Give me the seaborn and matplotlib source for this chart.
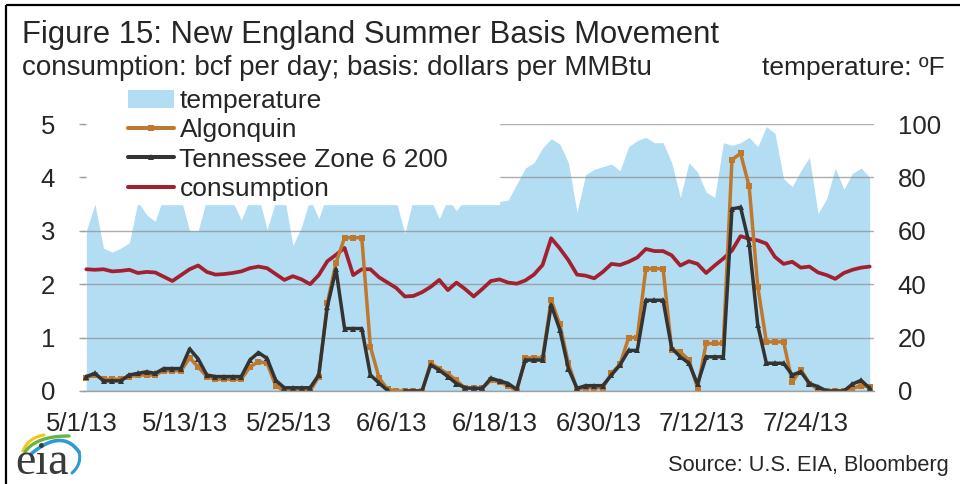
import numpy as np
import pandas as pd
import matplotlib
matplotlib.use("Agg")
import matplotlib.pyplot as plt
import matplotlib.patches as mpatches
from matplotlib.lines import Line2D
import seaborn as sns

# -- Datos (diarios, 5/1/13 - 7/31/13) ---------------------------------------
fechas = pd.date_range("2013-05-01 12:00", periods=92, freq="D")

temperatura = [60, 70, 53.5, 52, 53.5, 55.5, 71, 66, 63.5, 73,
               75, 72, 60, 60, 72, 74, 73, 71, 64, 72,
               73, 60.5, 71, 73, 54.5, 61.5, 72, 64.5, 74, 78,
               80, 76, 75, 74, 73, 72, 71, 59, 72, 74,
               72, 64.5, 72, 67.5, 72, 74, 73, 72, 71, 71.5,
               77.5, 83.5, 85.5, 91, 94.5, 92.5, 85.5, 67, 81, 83,
               84, 85, 82.5, 91.5, 93.8, 95, 93, 93, 85.5, 72.5,
               85.5, 82, 74.5, 72.5, 93, 92, 93, 95, 91.5, 99,
               96.5, 79.5, 76.5, 82.5, 87.5, 66.5, 72, 83.5, 75.5, 81.5,
               83.5, 80]

algonquin = [0.25, 0.30, 0.22, 0.22, 0.22, 0.27, 0.30, 0.30, 0.30, 0.38,
             0.38, 0.38, 0.62, 0.45, 0.27, 0.22, 0.22, 0.22, 0.22, 0.45,
             0.55, 0.52, 0.10, 0.0, 0.0, 0.0, 0.0, 0.27, 1.65, 2.40,
             2.87, 2.87, 2.87, 0.83, 0.25, 0.03, 0.0, 0.0, 0.0, 0.0,
             0.52, 0.42, 0.32, 0.20, 0.05, 0.05, 0.05, 0.20, 0.17, 0.10,
             0.0, 0.62, 0.62, 0.62, 1.70, 1.25, 0.52, 0.03, 0.06, 0.06,
             0.06, 0.33, 0.50, 1.00, 1.00, 2.29, 2.29, 2.29, 0.77, 0.73,
             0.58, 0.05, 0.89, 0.89, 0.89, 4.33, 4.45, 3.83, 1.95, 0.92,
             0.92, 0.92, 0.17, 0.40, 0.14, 0.03, 0.0, 0.0, 0.0, 0.05,
             0.10, 0.08]

tennessee = [0.27, 0.33, 0.19, 0.19, 0.19, 0.30, 0.33, 0.36, 0.33, 0.42,
             0.42, 0.42, 0.79, 0.60, 0.30, 0.27, 0.27, 0.27, 0.27, 0.58,
             0.72, 0.61, 0.20, 0.06, 0.06, 0.06, 0.06, 0.30, 1.58, 2.28,
             1.17, 1.17, 1.17, 0.30, 0.15, 0.01, -0.15, 0.0, 0.0, 0.0,
             0.49, 0.39, 0.27, 0.14, 0.06, 0.05, 0.05, 0.24, 0.19, 0.14,
             0.03, 0.58, 0.58, 0.58, 1.61, 1.15, 0.42, 0.05, 0.10, 0.10,
             0.10, 0.30, 0.49, 0.76, 0.76, 1.70, 1.70, 1.70, 0.80, 0.64,
             0.52, 0.13, 0.64, 0.64, 0.64, 3.41, 3.44, 2.76, 1.23, 0.52,
             0.52, 0.52, 0.30, 0.36, 0.14, 0.08, 0.0, 0.0, 0.0, 0.13,
             0.20, 0.05]

consumo = [2.28, 2.27, 2.28, 2.24, 2.25, 2.27, 2.21, 2.23, 2.22, 2.14,
           2.06, 2.17, 2.28, 2.35, 2.23, 2.18, 2.19, 2.21, 2.24, 2.30,
           2.33, 2.30, 2.19, 2.08, 2.15, 2.09, 2.00, 2.17, 2.43, 2.55,
           2.68, 2.17, 2.28, 2.28, 2.13, 2.03, 1.93, 1.77, 1.78, 1.85,
           1.95, 2.08, 1.89, 2.03, 1.91, 1.77, 1.91, 2.06, 2.09, 2.03,
           2.01, 2.07, 2.18, 2.36, 2.86, 2.67, 2.45, 2.18, 2.16, 2.11,
           2.23, 2.38, 2.36, 2.42, 2.50, 2.66, 2.62, 2.62, 2.54, 2.35,
           2.43, 2.38, 2.21, 2.35, 2.48, 2.63, 2.90, 2.85, 2.82, 2.76,
           2.51, 2.38, 2.42, 2.31, 2.33, 2.22, 2.17, 2.10, 2.21, 2.27,
           2.31, 2.33]

ticks_x = pd.to_datetime(["2013-05-01", "2013-05-13", "2013-05-25", "2013-06-06",
                          "2013-06-18", "2013-06-30", "2013-07-12", "2013-07-24"])
etiquetas_x = ["5/1/13", "5/13/13", "5/25/13", "6/6/13",
               "6/18/13", "6/30/13", "7/12/13", "7/24/13"]
ticks_izq = [0, 1, 2, 3, 4, 5]
ticks_der = [0, 20, 40, 60, 80, 100]

# Paleta
AZUL = "#B3DDF3"
NARANJA = "#C0782C"
NEGRO = "#333333"
ROJO = "#A3202F"
GRIS = "#A0A0A0"

sns.set_theme(style="white")
plt.rcParams["font.family"] = ["Liberation Sans", "DejaVu Sans"]

W, H = 960, 484
fig = plt.figure(figsize=(W / 100, H / 100), dpi=100)
fig.patch.set_facecolor("white")

ax = fig.add_axes([82 / W, 1 - 391 / H, 792 / W, 267 / H])
tax = ax.twinx()

# -- Temperatura (eje derecho) -----------------------------------------------
tax.fill_between(fechas, temperatura, 0, color=AZUL, lw=0)
tax.set_ylim(0, 100)
tax.set_yticks(ticks_der)
tax.tick_params(axis="y", length=0, pad=17, labelsize=18.5)
for s in tax.spines.values():
    s.set_visible(False)

# el eje principal va encima del área
ax.set_zorder(tax.get_zorder() + 1)
ax.patch.set_visible(False)

# -- Series (eje izquierdo) --------------------------------------------------
LW = 2.5
sns.lineplot(x=fechas, y=consumo, ax=ax, color=ROJO, lw=2.7, legend=False)
sns.lineplot(x=fechas, y=algonquin, ax=ax, color=NARANJA, lw=LW, marker="s",
             markersize=4.3, markeredgewidth=0, legend=False)
sns.lineplot(x=fechas, y=tennessee, ax=ax, color=NEGRO, lw=LW, marker="^",
             markersize=4, markeredgewidth=0, legend=False)

ax.set_ylim(0, 5)
ax.set_yticks(ticks_izq)
ax.set_xlim(pd.Timestamp("2013-05-01"), pd.Timestamp("2013-08-01"))
ax.set_xticks(ticks_x)
ax.set_xticklabels(etiquetas_x)
ax.set_xlabel("")
ax.set_ylabel("")
ax.tick_params(axis="x", length=7, width=1, color=GRIS, pad=8, labelsize=18.5)
ax.tick_params(axis="y", length=5, width=1, color=GRIS, direction="inout",
               pad=17, labelsize=18.5)
ax.grid(axis="y", color="#8C8C8C", lw=1, alpha=0.7)
ax.set_axisbelow(True)
for lado in ["left", "right", "top"]:
    ax.spines[lado].set_visible(False)
ax.spines["bottom"].set_color(GRIS)
ax.spines["bottom"].set_linewidth(1)

# caja blanca de la leyenda (tapa área y rejilla)
ax.add_patch(mpatches.Rectangle((0.006, (391 - 204) / 267), 0.52, 0.4,
                                transform=ax.transAxes, color="white",
                                zorder=1.8, clip_on=False))

handles = [
    mpatches.Patch(facecolor=AZUL, edgecolor="none", label="temperature"),
    Line2D([], [], color=NARANJA, lw=LW + 0.4, marker="s", markersize=4.3,
           markeredgewidth=0, label="Algonquin"),
    Line2D([], [], color=NEGRO, lw=LW + 0.4, marker="^", markersize=4,
           markeredgewidth=0, label="Tennessee Zone 6 200"),
    Line2D([], [], color=ROJO, lw=LW + 0.4, label="consumption"),
]
leg = fig.legend(handles=handles, loc="upper left",
                 bbox_to_anchor=(128 / W, 1 - 89 / H), frameon=False,
                 fontsize=19, labelspacing=0.2, handlelength=1.75,
                 handletextpad=0.2, borderpad=0, borderaxespad=0)

# -- Textos ------------------------------------------------------------------
fig.text(22 / W, 1 - 43 / H, "Figure 15: New England Summer Basis Movement",
         fontsize=22.3, va="baseline", ha="left")
fig.text(22 / W, 1 - 75 / H, "consumption: bcf per day; basis: dollars per MMBtu",
         fontsize=20, va="baseline", ha="left")
fig.text(945 / W, 1 - 75 / H, "temperature: \u00baF",
         fontsize=19, va="baseline", ha="right")
fig.text(949 / W, 1 - 471 / H, "Source: U.S. EIA, Bloomberg",
         fontsize=15.7, va="baseline", ha="right")

# -- Marco y logo eia ---------------------------------------------------------
lax = fig.add_axes([0, 0, 1, 1])
lax.set_xlim(0, W)
lax.set_ylim(H, 0)
lax.axis("off")
lax.patch.set_visible(False)
lax.plot([6, 6], [5, H], color="black", lw=1.6, solid_capstyle="butt")
lax.plot([6, W], [5, 5], color="black", lw=1.6, solid_capstyle="butt")

t = np.linspace(0, 1, 40)
def curva(p0, p1, p2):
    x = (1 - t) ** 2 * p0[0] + 2 * (1 - t) * t * p1[0] + t ** 2 * p2[0]
    y = (1 - t) ** 2 * p0[1] + 2 * (1 - t) * t * p1[1] + t ** 2 * p2[1]
    return x, y

lax.plot(*curva((23, 451), (28, 438), (44, 435)), color="#F2C618", lw=2.2)
lax.plot(*curva((25, 452), (36, 436), (69, 436)), color="#6DB33F", lw=2.4)
lax.plot(*curva((31, 454), (62, 428), (79, 452)), color="#2E9BD6", lw=2.6)
lax.plot(*curva((79, 452), (82, 464), (72, 473)), color="#2E9BD6", lw=2.2)
lax.text(15, 474, "eia", fontsize=33, family=["Liberation Serif", "DejaVu Serif"],
         color="#3A3A3A", va="baseline", ha="left")

fig.savefig("out.png", dpi=100)
plt.close(fig)
